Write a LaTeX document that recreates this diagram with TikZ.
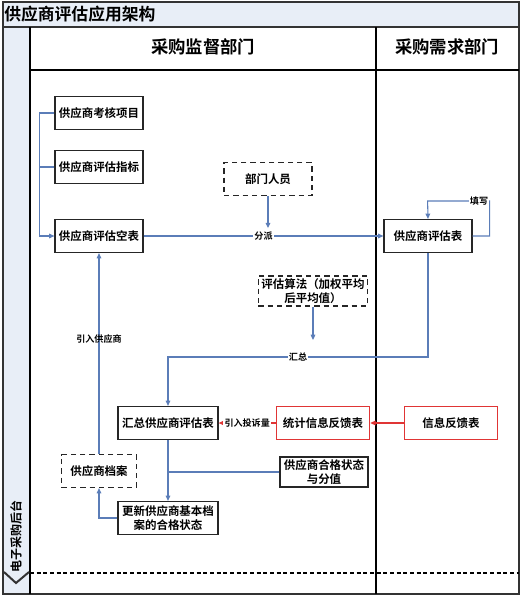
\documentclass[tikz,border=0pt]{standalone}
\usepackage{fontspec}
\setmainfont{Noto Sans CJK SC}[BoldFont={* Bold}]
\newfontfamily\cjkb{Noto Sans CJK SC Bold}
\usetikzlibrary{arrows.meta}
\definecolor{lane}{HTML}{E8EEF7}
\definecolor{flow}{HTML}{5B7DB8}
\definecolor{redc}{HTML}{E03535}
\tikzset{
  box/.style={draw=black!85, line width=0.9pt, minimum width=66pt, minimum height=24.75pt, align=center, font=\cjkb\fontsize{8.6pt}{10.5pt}\selectfont, inner sep=2pt, fill=white},
  dbox/.style={box, dashed, dash pattern=on 4pt off 3pt},
  rbox/.style={box, draw=redc},
  fl/.style={draw=flow, line width=0.8pt, -{Triangle[length=4pt,width=3.5pt]}},
  fln/.style={draw=flow, line width=0.8pt},
  rfl/.style={draw=redc, line width=0.8pt, -{Triangle[length=4pt,width=3.5pt]}},
  lbl/.style={font=\cjkb\fontsize{6.8pt}{8pt}\selectfont, fill=white, inner sep=1pt},
}
\begin{document}
\begin{tikzpicture}[x=0.75pt,y=-0.75pt]
\useasboundingbox (0,0) rectangle (522,596);
% frame
\fill[lane] (3,2) rectangle (519,27);
\fill[lane] (3,27) rectangle (30,594);
\draw[line width=1pt, black!80] (3,2) rectangle (519,594);
\draw[line width=1pt, black!80] (3,27) -- (519,27);
\draw[line width=1.5pt] (30,27) -- (30,594);
\draw[line width=1pt] (376,27) -- (376,594);
\draw[line width=1pt] (30,70) -- (519,70);
\draw[line width=1.3pt, dash pattern=on 3pt off 2pt] (30,573) -- (519,573);
\draw[line width=1.5pt, black!80] (4,572) -- (16,583) -- (29,572);
\node[anchor=west, font=\cjkb\fontsize{12.6pt}{14pt}\selectfont, inner sep=0pt] (title) at (4,14) {供应商评估应用架构};
\node[font=\cjkb\fontsize{13pt}{15pt}\selectfont] (h1) at (203,47) {采购监督部门};
\node[font=\cjkb\fontsize{13pt}{15pt}\selectfont] (h2) at (447,47) {采购需求部门};
\node[rotate=90, font=\cjkb\fontsize{9pt}{10pt}\selectfont] (lanel) at (16,536) {电子采购后台};
% nodes
\node[box] (a) at (99,113) {供应商考核项目};
\node[box] (b) at (99,167) {供应商评估指标};
\node[box] (c) at (99,236) {供应商评估空表};
\node[dbox] (d) at (268,179) {部门人员};
\node[box] (e) at (428,236) {供应商评估表};
\node[dbox, minimum width=82pt, minimum height=22.5pt, inner sep=1pt] (f) at (313,291) {评估算法（加权平均\\后平均值）};
\node[box, minimum width=75pt] (g) at (168,423) {汇总供应商评估表};
\node[rbox, minimum width=70pt] (h) at (323,423) {统计信息反馈表};
\node[rbox, minimum width=70pt] (i) at (451,423) {信息反馈表};
\node[dbox, minimum width=56pt] (j) at (99,471) {供应商档案};
\node[box, minimum width=66pt, minimum height=22.5pt, inner sep=1pt] (k) at (324,472) {供应商合格状态\\与分值};
\node[box, minimum width=75pt, inner sep=1pt] (l) at (168,518) {更新供应商基本档\\案的合格状态};
\coordinate (m) at (313,340);
% connectors
\draw[fln] (a.west) -- ++(-15,0) coordinate (a1);
\draw[fln] (b.west) -- (a1 |- b.west);
\draw[fl] (a1) |- (c.west);
\draw[fl] (c.east) -- node[lbl, pos=0.5] (lfp) {分派} (e.west);
\draw[fl] (d.south) -- ++(0,32);
\draw[fl] (e.east) -- ++(17,0) -- ++(0,-35) -- node[lbl, pos=0.17] (ltx2) {填写} ++(-62,0) -- (e.north);
\draw[fl] (e.south) |- node[lbl, pos=0.75] (lhz) {汇总} (168,357) -- (g.north);
\draw[fl] (f.south) -- (m);
\draw[rfl] (h.west) -- node[lbl, pos=0.5] (ltsl) {引入投诉量} (g.east);
\draw[rfl] (i.west) -- (h.east);
\draw[fl] (g.south) -- (l.north);
\draw[fln] (k.west) -- (168,472);
\draw[fl] (l.west) -| (j.south);
\draw[fl] (j.north) -- node[lbl, fill=none, pos=0.57] (lyr) {引入供应商} (c.south);
\end{tikzpicture}
\end{document}
